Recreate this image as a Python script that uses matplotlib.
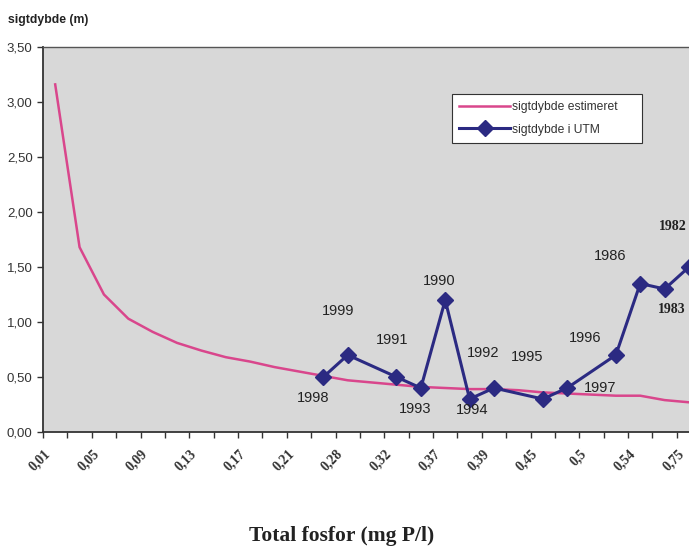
import matplotlib.pyplot as plt
import matplotlib.transforms as mtransforms
import numpy as np

# category labels on the x axis (every other category is labelled)
tick_labels = ['0,01', '0,05', '0,09', '0,13', '0,17', '0,21', '0,28',
               '0,32', '0,37', '0,39', '0,45', '0,5', '0,54', '0,75']

# estimated secchi depth, one value per category
estimated = [3.16, 1.68, 1.25, 1.03, 0.91, 0.81, 0.74, 0.68, 0.64, 0.59,
             0.55, 0.51, 0.47, 0.45, 0.43, 0.41, 0.40, 0.39, 0.39, 0.38,
             0.36, 0.35, 0.34, 0.33, 0.33, 0.29, 0.27]

# measured values (None = no measurement at that category)
measured = [None, None, None, None, None, None, None, None, None, None,
            None, 0.50, 0.70, None, 0.50, 0.40, 1.20, 0.30, 0.40, None,
            0.30, 0.40, None, 0.70, 1.35, 1.30, 1.50]
years = {11: '1998', 12: '1999', 14: '1991', 15: '1993', 16: '1990',
         17: '1994', 18: '1992', 20: '1995', 21: '1997', 23: '1996',
         24: '1986', 25: '1983', 26: '1982'}

# label offsets in points (dx, dy) from the marker
offsets = {11: (-7, -15), 12: (-7, 32), 14: (-3, 27), 15: (-4, -15),
           16: (-4, 14), 17: (2, -8), 18: (-8, 25), 20: (-11, 30),
           21: (24, 0), 23: (-22, 12), 24: (-22, 20), 25: (5.5, -15),
           26: (-11.5, 29)}

pink = '#d9468c'
navy = '#2b2a82'

fig = plt.figure(figsize=(6.89, 5.46), dpi=100)
ax = fig.add_axes([43 / 689, 114 / 546, 646 / 689, 385 / 546])
ax.set_facecolor('#d8d8d8')

x_all = np.arange(len(estimated))
ax.plot(x_all, estimated, color=pink, lw=1.8,
        label='sigtdybde estimeret     ', zorder=2)

mx = [i for i, v in enumerate(measured) if v is not None]
my = [measured[i] for i in mx]
ax.plot(mx, my, color=navy, lw=2.2, marker='D', markersize=8.5,
        label='sigtdybde i UTM', zorder=3)

for i in mx:
    dx, dy = offsets[i]
    if years[i] in ('1982', '1983'):
        fp = dict(family='Liberation Serif', fontweight='bold', fontsize=10)
    else:
        fp = dict(family='Liberation Sans', fontsize=10.5)
    ax.annotate(years[i], (i, measured[i]), xytext=(dx, dy),
                textcoords='offset points', ha='center', va='center',
                color='#222222', zorder=4, **fp)

ax.set_yticks(np.arange(0, 3.51, 0.5))
ax.set_yticklabels([f'{v:.2f}'.replace('.', ',') for v in np.arange(0, 3.51, 0.5)],
                   family='Liberation Sans', fontsize=9.5, color='#333333')
ax.tick_params(axis='y', length=4, width=1, color='#333333', direction='out')

ax.set_xticks(np.arange(0, 27, 2))
ax.set_xticklabels(tick_labels, rotation=45, ha='right', va='center',
                   rotation_mode='anchor', family='Liberation Serif',
                   fontweight='bold', fontsize=10, color='#333333')
ax.tick_params(axis='x', which='major', length=0, pad=14)
shift = mtransforms.ScaledTranslation(-7 / 100, 0, fig.dpi_scale_trans)
for lab in ax.get_xticklabels():
    lab.set_transform(lab.get_transform() + shift)
ax.set_xticks(np.arange(-0.5, 27, 1), minor=True)
ax.tick_params(axis='x', which='minor', length=4, width=1,
               color='#333333', direction='out')

# limits after the ticks, so the ticks do not widen the view
ax.set_ylim(0, 3.5)
ax.set_xlim(-0.5, 26.0)

for s in ('left', 'bottom'):
    ax.spines[s].set_color('#333333')
    ax.spines[s].set_linewidth(1.3)
ax.spines['top'].set_color('#555555')
ax.spines['top'].set_linewidth(1.0)
ax.spines['right'].set_visible(False)

leg = ax.legend(loc='upper left', bbox_to_anchor=(409 / 646, 1 - 47 / 385),
                prop={'family': 'Liberation Sans', 'size': 8.7},
                handlelength=4.2, handletextpad=0.15, borderpad=0.6,
                labelspacing=0.85, fancybox=False, framealpha=1,
                borderaxespad=0)
leg.get_frame().set_edgecolor('#333333')
leg.get_frame().set_linewidth(0.8)
for t in leg.get_texts():
    t.set_color('#333333')

fig.text(8 / 689, 1 - 20 / 546, 'sigtdybde (m)', family='Liberation Sans',
         fontweight='bold', fontsize=8.8, va='center', color='#222222')
fig.text(342 / 689, 1 - 536 / 546, 'Total fosfor (mg P/l)',
         family='Liberation Serif', fontweight='bold', fontsize=15.5,
         ha='center', va='center', color='#222222')

fig.savefig('out.png', dpi=100)
